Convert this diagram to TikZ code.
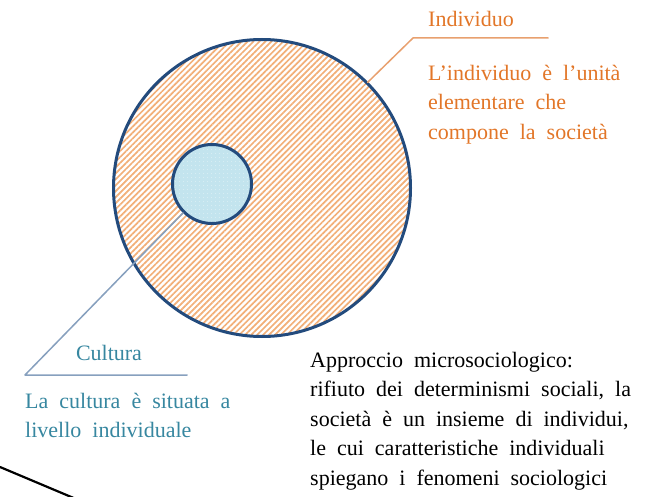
\documentclass[tikz,border=0pt]{standalone}
\usepackage{fontspec}
\setmainfont{Liberation Serif}[WordSpace=2]
\usetikzlibrary{patterns.meta}
\definecolor{indorange}{RGB}{226,118,40}
\definecolor{hatchorange}{RGB}{242,175,120}
\definecolor{ringblue}{RGB}{35,75,125}
\definecolor{cultfill}{RGB}{195,228,238}
\definecolor{culttext}{RGB}{55,135,160}
\definecolor{cultline}{RGB}{135,160,190}
\definecolor{indline}{RGB}{232,160,110}
\begin{document}
\begin{tikzpicture}[x=1pt, y=-1pt, line join=round, line cap=round,
	txt/.style={inner sep=0pt, font=\fontsize{22}{29.5}\selectfont, align=left},
	ring/.style={circle, draw=ringblue, line width=3pt, inner sep=0pt}]
	\useasboundingbox (0,0) rectangle (648,497);
	% cerchio esterno: individuo
	\node[ring, minimum size=297pt,
	pattern={Lines[angle=45,distance=4.2pt,line width=1.7pt]}, pattern color=hatchorange] (soc) at (262,188) {};
	% cerchio interno: cultura
	\node[ring, minimum size=79pt, preaction={fill=cultfill},
	pattern={Dots[distance=4pt,radius=0.6pt]}, pattern color=white!60!cultfill] (cult) at (212,184) {};
	\coordinate (indknee) at (413,38);
	\coordinate (indend) at (548,38);
	\coordinate (cultknee) at (25,375);
	\coordinate (cultend) at (187,375);
	\coordinate (cutA) at (0,467);
	\coordinate (cutB) at (76,499);
	\draw[indline, line width=1.5pt] (soc.45)--(indknee)--(indend);
	\draw[cultline, line width=1.5pt] (cult.225)--(cultknee)--(cultend);
	\draw[line width=2.2pt] (cutA)--(cutB);
	\path 
	(428,27) node[txt, text=indorange, anchor=base west] (indtitle) {Individuo}
	(428,65) node[txt, text=indorange, anchor=north west] (inddesc) {L'individuo è l'unità\\elementare che\\compone la società}
	(109,360) node[txt, text=culttext, anchor=base] (culttitle) {Cultura}
	(25,393) node[txt, text=culttext, anchor=north west] (cultdesc) {La cultura è situata a\\livello individuale}
	(310,352) node[txt, anchor=north west] (micro) {Approccio microsociologico:\\rifiuto dei determinismi sociali, la\\società è un insieme di individui,\\le cui caratteristiche individuali\\spiegano i fenomeni sociologici};
\end{tikzpicture}
\end{document}
